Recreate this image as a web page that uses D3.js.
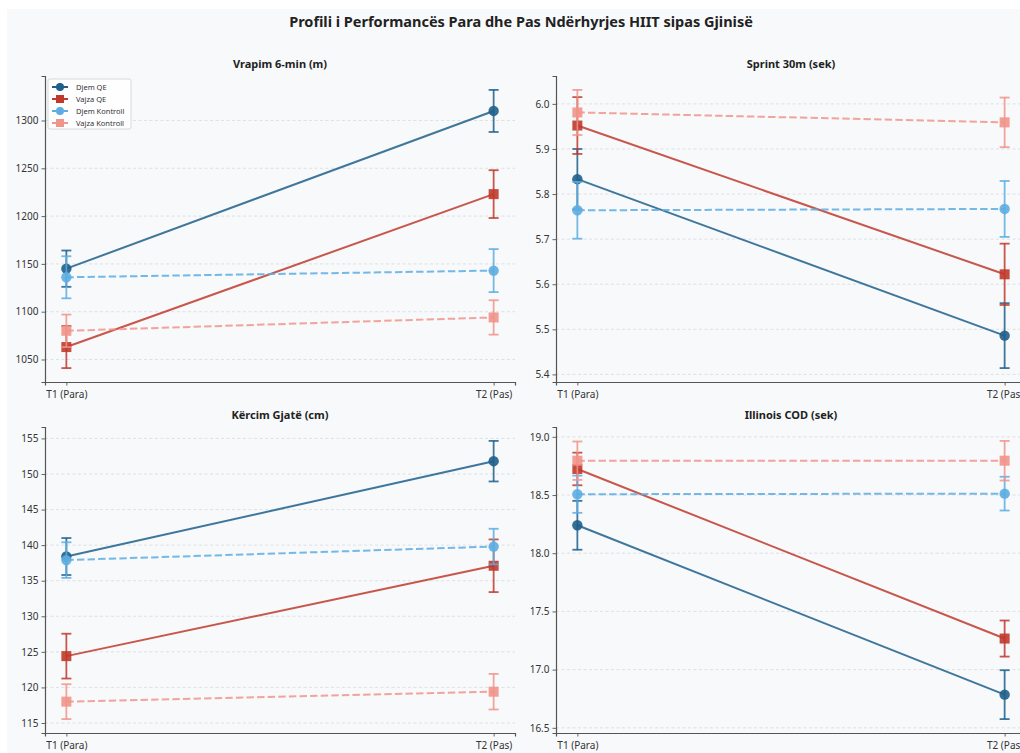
<!DOCTYPE html>
<html>
<head>
<meta charset="utf-8">
<script src="https://cdn.jsdelivr.net/npm/d3@7"></script>
<style>
  html, body { margin: 0; padding: 0; background: #ffffff; }
  svg { display: block; }
  text { font-family: "Noto Sans", "Open Sans", sans-serif; }
</style>
</head>
<body>
<svg id="chart" width="1020" height="753"></svg>
<script>
// Time points and groups
const timepoints = ["T1 (Para)", "T2 (Pas)"];
const groups = ["Djem QE", "Vajza QE", "Djem Kontroll", "Vajza Kontroll"];
const groupColors = ["#1f5f8b", "#c0392b", "#5dade2", "#f1948a"];
const groupDashed = [false, false, true, true];
const groupMarkers = ["circle", "square", "circle", "square"];

// Panel titles
const testTitles = ["Vrapim 6-min (m)", "Sprint 30m (sek)", "Kërcim Gjatë (cm)", "Illinois COD (sek)"];

// Means [T1, T2] per group, and error bar half-widths
const run6Mean = [[1145, 1310], [1063, 1223], [1136, 1143], [1080, 1094]];
const run6Err  = [[19, 22], [22, 25], [22, 22.5], [17, 18]];

const sprintMean = [[5.833, 5.486], [5.952, 5.622], [5.764, 5.767], [5.981, 5.959]];
const sprintErr  = [[0.067, 0.072], [0.063, 0.068], [0.063, 0.062], [0.05, 0.055]];

const jumpMean = [[138.4, 151.8], [124.4, 137.1], [137.9, 139.8], [118.0, 119.4]];
const jumpErr  = [[2.6, 2.85], [3.15, 3.7], [2.5, 2.5], [2.45, 2.5]];

const codMean = [[18.24, 16.785], [18.724, 17.267], [18.507, 18.512], [18.795, 18.795]];
const codErr  = [[0.21, 0.21], [0.14, 0.155], [0.16, 0.145], [0.165, 0.17]];

// Y tick values per panel
const run6Ticks   = [1050, 1100, 1150, 1200, 1250, 1300];
const sprintTicks = [5.4, 5.5, 5.6, 5.7, 5.8, 5.9, 6.0];
const jumpTicks   = [115, 120, 125, 130, 135, 140, 145, 150, 155];
const codTicks    = [16.5, 17.0, 17.5, 18.0, 18.5, 19.0];

const panels = [
  { title: testTitles[0], mean: run6Mean,   err: run6Err,   ticks: run6Ticks,   fmt: d3.format("d"),   legend: true },
  { title: testTitles[1], mean: sprintMean, err: sprintErr, ticks: sprintTicks, fmt: d3.format(".1f"), legend: false },
  { title: testTitles[2], mean: jumpMean,   err: jumpErr,   ticks: jumpTicks,   fmt: d3.format("d"),   legend: false },
  { title: testTitles[3], mean: codMean,    err: codErr,    ticks: codTicks,    fmt: d3.format(".1f"), legend: false }
];

const svg = d3.select("#chart");
const bg = "#f7f9fb";

// Figure background
svg.append("rect").attr("x", 7).attr("y", 9).attr("width", 1013).attr("height", 744).attr("fill", bg);

// Figure title
svg.append("text")
  .attr("x", 521).attr("y", 27)
  .attr("text-anchor", "middle")
  .attr("font-size", 14.5).attr("font-weight", "bold").attr("fill", "#222")
  .text("Profili i Performancës Para dhe Pas Ndërhyrjes HIIT sipas Gjinisë");

const axW = 470, axH = 306;
const boxes = [
  { x: 45, y: 76 }, { x: 556, y: 76 },
  { x: 45, y: 427 }, { x: 556, y: 427 }
];

panels.forEach((p, i) => {
  const b = boxes[i];
  const g = svg.append("g").attr("transform", `translate(${b.x},${b.y})`);

  // y domain: data extent incl. error bars with 5% margin
  let lo = Infinity, hi = -Infinity;
  p.mean.forEach((m, gi) => m.forEach((v, ti) => {
    lo = Math.min(lo, v - p.err[gi][ti]);
    hi = Math.max(hi, v + p.err[gi][ti]);
  }));
  const pad = (hi - lo) * 0.05;
  const y = d3.scaleLinear().domain([lo - pad, hi + pad]).range([axH, 0]);
  const x = d3.scalePoint().domain(timepoints).range([0, axW]).padding(0.05);

  g.append("rect").attr("width", axW).attr("height", axH).attr("fill", bg);

  // grid
  g.append("g").selectAll("line").data(p.ticks).join("line")
    .attr("x1", 0).attr("x2", axW)
    .attr("y1", d => y(d)).attr("y2", d => y(d))
    .attr("stroke", "#d8dadd").attr("stroke-width", 0.8)
    .attr("stroke-dasharray", "3,2.5");

  // subplot title
  g.append("text").attr("x", axW / 2).attr("y", -8)
    .attr("text-anchor", "middle").attr("font-size", 11).attr("font-weight", "bold")
    .attr("fill", "#222").text(p.title);

  // axes
  const yAxis = d3.axisLeft(y).tickValues(p.ticks).tickFormat(p.fmt).tickSize(3.5).tickPadding(3);
  const xAxis = d3.axisBottom(x).tickSize(3.5).tickPadding(3);
  const ya = g.append("g").call(yAxis);
  const xa = g.append("g").attr("transform", `translate(0,${axH})`).call(xAxis);
  [ya, xa].forEach(a => {
    a.select(".domain").attr("stroke", "#555").attr("stroke-width", 1.2);
    a.selectAll(".tick line").attr("stroke", "#555").attr("stroke-width", 0.9);
    a.selectAll(".tick text").attr("font-size", 10).attr("fill", "#333")
      .style("font-family", "'Noto Sans', 'Open Sans', sans-serif");
  });
  xa.selectAll(".tick text").attr("dy", "0.9em");

  // series
  groups.forEach((name, gi) => {
    const col = groupColors[gi];
    const sg = g.append("g");
    const pts = timepoints.map((t, ti) => ({ t, v: p.mean[gi][ti], e: p.err[gi][ti] }));
    const line = d3.line().x(d => x(d.t)).y(d => y(d.v));
    sg.append("path").datum(pts).attr("d", line)
      .attr("fill", "none").attr("stroke", col).attr("stroke-width", 2)
      .attr("stroke-opacity", 0.85)
      .attr("stroke-dasharray", groupDashed[gi] ? "7.4,3.2" : null);
    // error bars
    pts.forEach(d => {
      const cx = x(d.t);
      const eg = sg.append("g").attr("stroke", col).attr("stroke-width", 1.8).attr("stroke-opacity", 0.85);
      eg.append("line").attr("x1", cx).attr("x2", cx).attr("y1", y(d.v - d.e)).attr("y2", y(d.v + d.e));
      eg.append("line").attr("x1", cx - 5).attr("x2", cx + 5).attr("y1", y(d.v - d.e)).attr("y2", y(d.v - d.e));
      eg.append("line").attr("x1", cx - 5).attr("x2", cx + 5).attr("y1", y(d.v + d.e)).attr("y2", y(d.v + d.e));
    });
    // markers
    pts.forEach(d => {
      const cx = x(d.t), cy = y(d.v);
      if (groupMarkers[gi] === "circle") {
        sg.append("circle").attr("cx", cx).attr("cy", cy).attr("r", 5.2).attr("fill", col).attr("fill-opacity", 0.9);
      } else {
        sg.append("rect").attr("x", cx - 5).attr("y", cy - 5).attr("width", 10).attr("height", 10)
          .attr("fill", col).attr("fill-opacity", 0.9);
      }
    });
  });

  // legend
  if (p.legend) {
    const lg = g.append("g").attr("transform", "translate(3,3)");
    lg.append("rect").attr("width", 83).attr("height", 50).attr("rx", 2)
      .attr("fill", "#ffffff").attr("fill-opacity", 0.85)
      .attr("stroke", "#d0d0d0").attr("stroke-width", 0.8);
    groups.forEach((name, gi) => {
      const col = groupColors[gi];
      const ry = 8 + gi * 12;
      const row = lg.append("g").attr("transform", `translate(0,${ry})`);
      row.append("line").attr("x1", 4).attr("x2", 20).attr("y1", 0).attr("y2", 0)
        .attr("stroke", col).attr("stroke-width", 2)
        .attr("stroke-dasharray", groupDashed[gi] ? "4,2" : null);
      row.append("line").attr("x1", 12).attr("x2", 12).attr("y1", -4).attr("y2", 4)
        .attr("stroke", col).attr("stroke-width", 1.5);
      if (groupMarkers[gi] === "circle") {
        row.append("circle").attr("cx", 12).attr("cy", 0).attr("r", 4).attr("fill", col);
      } else {
        row.append("rect").attr("x", 8).attr("y", -4).attr("width", 8).attr("height", 8).attr("fill", col);
      }
      row.append("text").attr("x", 28).attr("y", 0).attr("dy", "0.35em")
        .attr("font-size", 7.5).attr("fill", "#333").text(name);
    });
  }
});
</script>
</body>
</html>
